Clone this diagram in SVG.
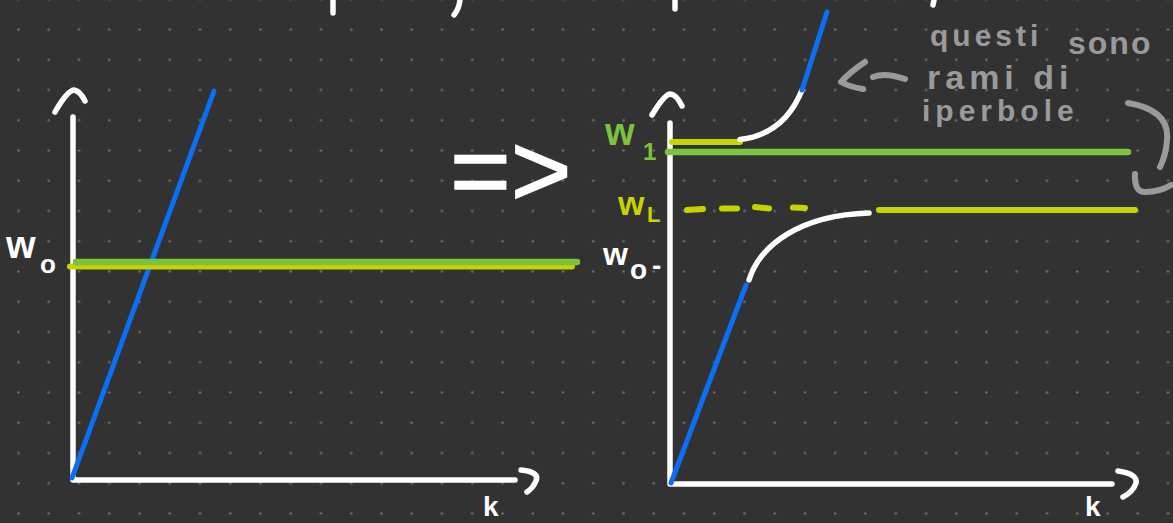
<svg xmlns="http://www.w3.org/2000/svg" width="1173" height="523" viewBox="0 0 1173 523">
<defs>
<pattern id="dots" patternUnits="userSpaceOnUse" x="3.375" y="14.375" width="30.25" height="30.25">
<circle cx="15.125" cy="15.125" r="1.3" fill="#6c6c6c"/>
</pattern>
<style>
.w{fill:none;stroke:#ffffff;stroke-width:5.5;stroke-linecap:round;stroke-linejoin:round}
.b{fill:none;stroke:#0a6ff2;stroke-width:5;stroke-linecap:round}
.g{fill:none;stroke:#7cc23c;stroke-width:6.5;stroke-linecap:round}
.l{fill:none;stroke:#c6d300;stroke-width:6;stroke-linecap:round}
.a{fill:none;stroke:#9a9a9a;stroke-width:6;stroke-linecap:round;stroke-linejoin:round}
.t{font-family:"Liberation Sans",Arial,sans-serif;font-weight:bold}
.tn{font-family:"Liberation Sans",Arial,sans-serif;font-weight:normal}
.tw{fill:#ffffff}
.tg{fill:#7cc23c}
.tl{fill:#c6d300}
.ta{fill:#9a9a9a}
</style>
</defs>
<rect width="1173" height="523" fill="#323232"/>
<rect width="1173" height="523" fill="url(#dots)"/>

<g id="top-fragments">
<path class="w" d="M333,0 L333,13"/>
<path class="w" d="M460,0 Q459,9 454,15"/>
<path class="w" d="M675,0 L675,9"/>
<path class="w" d="M934,0 L933,5"/>
</g>

<g id="left-chart">
<path class="w" d="M55,112 Q67,91 74,90 Q80,91 85,101"/>
<path class="w" d="M73,117 L73,480 L515,480"/>
<path class="w" d="M521,470 Q540,472 536,481 Q533,488 527,492"/>
<path class="b" d="M72,478 L214,91"/>
<path class="l" d="M70,266.5 L572,266.5"/>
<path class="g" d="M76,262 L577,262"/>
</g>

<g id="left-labels">
<text class="t tw" x="6" y="258" font-size="38">w</text>
<text class="t tw" x="40" y="273" font-size="26">o</text>
<text class="t tw" x="483" y="516" font-size="28">k</text>
</g>

<g id="implies">
<text class="tn tw" x="450" y="206" font-size="104" stroke="#ffffff" stroke-width="1.5">=&gt;</text>
</g>

<g id="right-chart">
<path class="w" d="M652,115 Q664,95 670,94 Q676,94 682,106"/>
<path class="w" d="M670,123 L670,484 L1112,484"/>
<path class="w" d="M1118,471 Q1138,474 1136,483 Q1133,492 1123,497"/>
<path class="l" d="M672,142 L740,142"/>
<path class="g" d="M668,152 L1128,152"/>
<path class="w" d="M740,139.5 C770,136 790,120 802,90"/>
<path class="b" d="M802,90 L827,12"/>
<path class="b" d="M671,483 L746,285"/>
<path class="w" d="M749,280 C760,245 800,215 869,213"/>
<g id="wl-dashes">
<path class="l" d="M687,210 L703,209"/>
<path class="l" d="M722,208.5 L737,208.5"/>
<path class="l" d="M755,207 L769,208.5"/>
<path class="l" d="M793,207.5 L805,208"/>
</g>
<path class="l" d="M879,210 L1135,210"/>
</g>

<g id="right-labels">
<text class="t tg" x="605" y="145" font-size="38">w</text>
<text class="t tg" x="643" y="160" font-size="24">1</text>
<text class="t tl" x="618" y="215" font-size="34">w</text>
<text class="t tl" x="647" y="222" font-size="22">L</text>
<text class="t tw" x="603" y="265" font-size="32">w</text>
<text class="t tw" x="630" y="279" font-size="28">o</text>
<text class="t tw" x="652" y="275" font-size="28">-</text>
<text class="t tw" x="1085" y="516" font-size="28">k</text>
</g>

<g id="annotation">
<text class="t ta" x="930" y="46" font-size="30" letter-spacing="4">questi</text>
<text class="t ta" x="1068" y="54" font-size="32" letter-spacing="2">sono</text>
<text class="t ta" x="927" y="89" font-size="34" letter-spacing="5">rami di</text>
<text class="t ta" x="922" y="121" font-size="30" letter-spacing="5">iperbole</text>
<path class="a" d="M1128,103 Q1170,110 1167,140 Q1166,155 1160,167"/>
<path class="a" d="M1135,174 Q1134,192 1145,192 Q1160,192 1171,185"/>
</g>

<g id="connectors">
<path class="a" d="M865,62 Q850,72 841,82 Q850,87 863,89"/>
<path class="a" d="M873,77 Q885,72 905,79"/>
</g>
</svg>
